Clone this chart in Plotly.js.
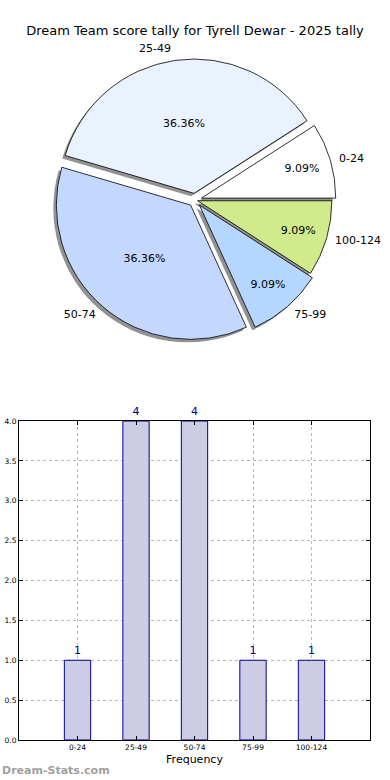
<!DOCTYPE html>
<html><head><meta charset="utf-8">
<script src="https://cdn.plot.ly/plotly-3.0.1.min.js"></script>
<style>body{margin:0;padding:0;background:#fff}#chart{width:390px;height:780px}</style>
</head><body><div id="chart"></div>
<script>
const categories = ["0-24", "25-49", "50-74", "75-99", "100-124"];
const counts = [1, 4, 4, 1, 1];
const sliceColors = ["#ffffff", "#ebf2ff", "#c4d7ff", "#b4d6ff", "#d0ea8c"];
const pulls = [0.05, 0.05, 0.05, 0.05, 0.02];
const yTicks = [0, 0.5, 1, 1.5, 2, 2.5, 3, 3.5, 4];
const yTickText = ["0.0", "0.5", "1.0", "1.5", "2.0", "2.5", "3.0", "3.5", "4.0"];

const W = 390, H = 780;
const cx = 195, cy = 200, half = 141;
const dom = (h, dx, dy) => ({x: [(cx + dx - h) / W, (cx + dx + h) / W], y: [1 - (cy + dy + h) / H, 1 - (cy + dy - h) / H]});
const pieDom = dom(half, 0, 0);
const shadowDom = dom(half, -3, 3);
const labelDom = dom(half * 1.04, 0, 0);
const total = counts.reduce((a, b) => a + b, 0);
const rot = 90 - 360 * counts[0] / total;

const font = "DejaVu Sans, sans-serif";

const labelPie = {
  type: "pie", labels: categories, values: counts, sort: false,
  direction: "counterclockwise", rotation: rot, pull: pulls,
  domain: labelDom,
  marker: {colors: categories.map(() => "rgba(0,0,0,0)"), line: {width: 0}},
  textinfo: "label", textposition: "outside",
  textfont: {family: font, size: 11, color: "#000"},
  hoverinfo: "skip", showlegend: false
};
const shadow = {
  type: "pie", labels: categories, values: counts, sort: false,
  direction: "counterclockwise", rotation: rot, pull: pulls,
  domain: shadowDom,
  marker: {colors: categories.map(() => "rgba(110,110,110,0.75)"), line: {width: 0}},
  textinfo: "none",
  hoverinfo: "skip", showlegend: false
};
const pie = {
  type: "pie", labels: categories, values: counts, sort: false,
  direction: "counterclockwise", rotation: rot, pull: pulls,
  domain: pieDom,
  marker: {colors: sliceColors, line: {color: "#000", width: 0.8}},
  texttemplate: "%{percent:.2%}", textposition: "inside", insidetextorientation: "horizontal",
  textfont: {family: font, size: 11, color: "#000"},
  showlegend: false
};
const bars = {
  type: "bar", x: categories, y: counts, xaxis: "x", yaxis: "y",
  width: 0.45,
  marker: {color: "#ccccE5", line: {color: "#00008b", width: 1}},
  text: counts.map(String), textposition: "outside", cliponaxis: false,
  textfont: {family: font, size: 11, color: "#00008b"},
  showlegend: false
};

const layout = {
  width: W, height: H,
  margin: {l: 0, r: 0, t: 0, b: 0},
  paper_bgcolor: "#fff", plot_bgcolor: "#fff",
  font: {family: font, color: "#000"},
  title: {text: "Dream Team score tally for Tyrell Dewar - 2025 tally", font: {family: font, size: 13, color: "#000"},
          x: 0.5, xanchor: "center", y: 1 - 30 / H, yanchor: "middle"},
  xaxis: {
    domain: [19 / W, 370 / W], range: [-1, 5], type: "category",
    showline: true, linecolor: "#000", linewidth: 1, mirror: "ticks",
    ticks: "inside", ticklen: 4, tickcolor: "#000",
    showgrid: true, gridcolor: "#b8b8b8", griddash: "dot", gridwidth: 1,
    tickfont: {family: font, size: 7.5, color: "#000"},
    title: {text: "Frequency", font: {family: font, size: 11, color: "#000"}, standoff: 4},
    zeroline: false, fixedrange: true
  },
  yaxis: {
    domain: [(H - 740) / H, (H - 421) / H], range: [0, 4],
    tickvals: yTicks, ticktext: yTickText,
    showline: true, linecolor: "#000", linewidth: 1, mirror: "ticks",
    ticks: "inside", ticklen: 4, tickcolor: "#000",
    showgrid: true, gridcolor: "#b8b8b8", griddash: "dot", gridwidth: 1,
    tickfont: {family: font, size: 7.5, color: "#000"},
    zeroline: false, fixedrange: true
  },
  annotations: [{
    text: "<b>Dream-Stats.com</b>", xref: "paper", yref: "paper",
    x: 0, y: 1 - 770 / H, xanchor: "left", yanchor: "middle", showarrow: false,
    font: {family: font, size: 11, color: "#a0a0a0"}
  }]
};

Plotly.newPlot("chart", [labelPie, shadow, pie, bars], layout, {displayModeBar: false, staticPlot: true});
</script></body></html>
